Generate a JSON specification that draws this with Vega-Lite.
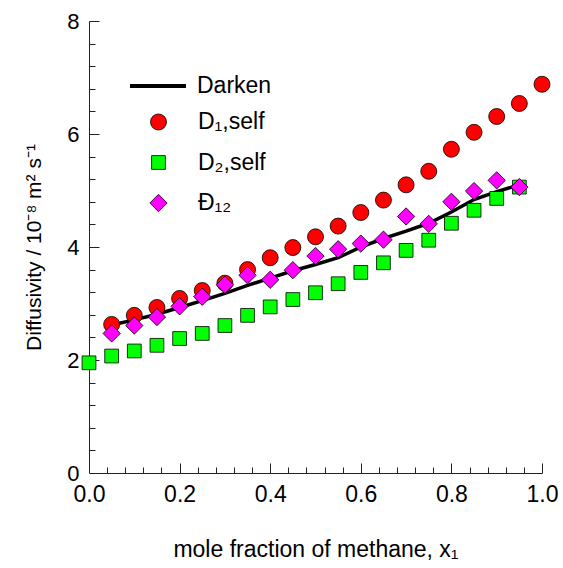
{
  "$schema": "https://vega.github.io/schema/vega-lite/v6.json",
  "width": 453,
  "height": 452,
  "autosize": "none",
  "padding": {"left": 89, "top": 21, "right": 21, "bottom": 95},
  "background": "white",
  "config": {
    "view": {"stroke": null},
    "font": "Liberation Sans",
    "axis": {
      "grid": false,
      "domainColor": "#222",
      "tickColor": "#222",
      "labelColor": "black",
      "titleColor": "black",
      "labelFont": "Liberation Sans",
      "titleFont": "Liberation Sans",
      "labelFontSize": 23,
      "titleFontSize": 23,
      "titleFontWeight": "normal"
    },
    "legend": {
      "labelFont": "Liberation Sans",
      "labelFontSize": 23,
      "labelColor": "black",
      "padding": 0,
      "clipHeight": 20,
      "symbolOffset": 0
    }
  },
  "datasets": {
    "darken": [
      {"series": "Darken", "x": 0.05, "y": 2.62}, {"series": "Darken", "x": 0.10, "y": 2.71},
      {"series": "Darken", "x": 0.15, "y": 2.81}, {"series": "Darken", "x": 0.20, "y": 2.93},
      {"series": "Darken", "x": 0.25, "y": 3.05}, {"series": "Darken", "x": 0.30, "y": 3.18},
      {"series": "Darken", "x": 0.35, "y": 3.32}, {"series": "Darken", "x": 0.40, "y": 3.45},
      {"series": "Darken", "x": 0.45, "y": 3.58}, {"series": "Darken", "x": 0.50, "y": 3.69},
      {"series": "Darken", "x": 0.55, "y": 3.81}, {"series": "Darken", "x": 0.60, "y": 4.00},
      {"series": "Darken", "x": 0.65, "y": 4.15}, {"series": "Darken", "x": 0.70, "y": 4.28},
      {"series": "Darken", "x": 0.75, "y": 4.42}, {"series": "Darken", "x": 0.80, "y": 4.62},
      {"series": "Darken", "x": 0.85, "y": 4.84}, {"series": "Darken", "x": 0.90, "y": 4.98},
      {"series": "Darken", "x": 0.95, "y": 5.10}
    ],
    "points": [
      {"series": "D₁,self", "x": 0.05, "y": 2.63},
      {"series": "D₁,self", "x": 0.10, "y": 2.79},
      {"series": "D₁,self", "x": 0.15, "y": 2.93},
      {"series": "D₁,self", "x": 0.20, "y": 3.09},
      {"series": "D₁,self", "x": 0.25, "y": 3.23},
      {"series": "D₁,self", "x": 0.30, "y": 3.36},
      {"series": "D₁,self", "x": 0.35, "y": 3.60},
      {"series": "D₁,self", "x": 0.40, "y": 3.81},
      {"series": "D₁,self", "x": 0.45, "y": 3.99},
      {"series": "D₁,self", "x": 0.50, "y": 4.18},
      {"series": "D₁,self", "x": 0.55, "y": 4.37},
      {"series": "D₁,self", "x": 0.60, "y": 4.61},
      {"series": "D₁,self", "x": 0.65, "y": 4.83},
      {"series": "D₁,self", "x": 0.70, "y": 5.10},
      {"series": "D₁,self", "x": 0.75, "y": 5.34},
      {"series": "D₁,self", "x": 0.80, "y": 5.73},
      {"series": "D₁,self", "x": 0.85, "y": 6.03},
      {"series": "D₁,self", "x": 0.90, "y": 6.31},
      {"series": "D₁,self", "x": 0.95, "y": 6.54},
      {"series": "D₁,self", "x": 1.00, "y": 6.88},
      {"series": "D₂,self", "x": 0.00, "y": 1.95},
      {"series": "D₂,self", "x": 0.05, "y": 2.07},
      {"series": "D₂,self", "x": 0.10, "y": 2.16},
      {"series": "D₂,self", "x": 0.15, "y": 2.26},
      {"series": "D₂,self", "x": 0.20, "y": 2.38},
      {"series": "D₂,self", "x": 0.25, "y": 2.47},
      {"series": "D₂,self", "x": 0.30, "y": 2.61},
      {"series": "D₂,self", "x": 0.35, "y": 2.79},
      {"series": "D₂,self", "x": 0.40, "y": 2.94},
      {"series": "D₂,self", "x": 0.45, "y": 3.07},
      {"series": "D₂,self", "x": 0.50, "y": 3.19},
      {"series": "D₂,self", "x": 0.55, "y": 3.35},
      {"series": "D₂,self", "x": 0.60, "y": 3.55},
      {"series": "D₂,self", "x": 0.65, "y": 3.72},
      {"series": "D₂,self", "x": 0.70, "y": 3.94},
      {"series": "D₂,self", "x": 0.75, "y": 4.12},
      {"series": "D₂,self", "x": 0.80, "y": 4.42},
      {"series": "D₂,self", "x": 0.85, "y": 4.65},
      {"series": "D₂,self", "x": 0.90, "y": 4.86},
      {"series": "D₂,self", "x": 0.95, "y": 5.06},
      {"series": "Đ₁₂", "x": 0.05, "y": 2.47},
      {"series": "Đ₁₂", "x": 0.10, "y": 2.61},
      {"series": "Đ₁₂", "x": 0.15, "y": 2.76},
      {"series": "Đ₁₂", "x": 0.20, "y": 2.95},
      {"series": "Đ₁₂", "x": 0.25, "y": 3.12},
      {"series": "Đ₁₂", "x": 0.30, "y": 3.33},
      {"series": "Đ₁₂", "x": 0.35, "y": 3.50},
      {"series": "Đ₁₂", "x": 0.40, "y": 3.42},
      {"series": "Đ₁₂", "x": 0.45, "y": 3.59},
      {"series": "Đ₁₂", "x": 0.50, "y": 3.84},
      {"series": "Đ₁₂", "x": 0.55, "y": 3.96},
      {"series": "Đ₁₂", "x": 0.60, "y": 4.06},
      {"series": "Đ₁₂", "x": 0.65, "y": 4.13},
      {"series": "Đ₁₂", "x": 0.70, "y": 4.54},
      {"series": "Đ₁₂", "x": 0.75, "y": 4.41},
      {"series": "Đ₁₂", "x": 0.80, "y": 4.80},
      {"series": "Đ₁₂", "x": 0.85, "y": 4.99},
      {"series": "Đ₁₂", "x": 0.90, "y": 5.18},
      {"series": "Đ₁₂", "x": 0.95, "y": 5.06}
    ]
  },
  "layer": [
    {
      "data": {"name": "darken"},
      "mark": {"type": "line", "strokeWidth": 3.5},
      "encoding": {
        "x": {
          "field": "x", "type": "quantitative",
          "scale": {"domain": [0, 1], "nice": false, "zero": false},
          "axis": {
            "orient": "bottom",
            "values": [0, 0.2, 0.4, 0.6, 0.8, 1.0],
            "format": ".1f",
            "ticks": false,
            "labelPadding": 10,
            "labelFlush": false,
            "title": "mole fraction of methane, x₁",
            "titlePadding": 32
          }
        },
        "y": {
          "field": "y", "type": "quantitative",
          "scale": {"domain": [0, 8], "nice": false, "zero": false},
          "axis": {
            "orient": "left",
            "values": [0, 2, 4, 6, 8],
            "ticks": false,
            "labelPadding": 10,
            "labelFontSize": 22,
            "labelFlush": false,
            "title": "Diffusivity / 10⁻⁸ m² s⁻¹",
            "titleFontSize": 21,
            "titlePadding": 22
          }
        },
        "color": {
          "field": "series", "type": "nominal",
          "scale": {"domain": ["Darken"], "range": ["black"]},
          "legend": {
            "title": null,
            "orient": "none",
            "legendX": 39,
            "legendY": 55,
            "symbolType": "stroke",
            "symbolSize": 3136,
            "symbolStrokeWidth": 4,
            "symbolStrokeColor": "black",
            "labelOffset": 9
          }
        }
      }
    },
    {
      "data": {"name": "points"},
      "mark": {"type": "point", "filled": true, "stroke": "black", "strokeWidth": 0.8, "opacity": 1},
      "encoding": {
        "x": {
          "field": "x", "type": "quantitative",
          "axis": {
            "orient": "bottom",
            "values": [0.2, 0.4, 0.6, 0.8, 1.0],
            "labels": false, "domain": false, "title": null,
            "tickSize": 10, "offset": -10
          }
        },
        "y": {
          "field": "y", "type": "quantitative",
          "axis": {
            "orient": "left",
            "values": [2, 4, 6, 8],
            "labels": false, "domain": false, "title": null,
            "tickSize": 10, "offset": -10
          }
        },
        "fill": {
          "field": "series", "type": "nominal",
          "scale": {"domain": ["D₁,self", "D₂,self", "Đ₁₂"], "range": ["#ff0000", "#00ff00", "#ff00ff"]},
          "legend": {
            "title": null,
            "orient": "none",
            "legendX": 58,
            "legendY": 91,
            "rowPadding": 17.5,
            "labelOffset": 28,
            "symbolStrokeColor": "black",
            "symbolStrokeWidth": 0.8
          }
        },
        "shape": {
          "field": "series", "type": "nominal",
          "scale": {"domain": ["D₁,self", "D₂,self", "Đ₁₂"], "range": ["circle", "square", "diamond"]}
        },
        "size": {
          "field": "series", "type": "nominal",
          "scale": {"type": "ordinal", "domain": ["D₁,self", "D₂,self", "Đ₁₂"], "range": [256, 190, 300]}
        }
      }
    },
    {
      "mark": {"type": "text", "align": "left", "baseline": "alphabetic", "font": "Liberation Sans", "fontSize": 24, "lineHeight": 30, "color": "black",
        "text": ["Binary mixtures", "C1(1) - C2 (2);", "333K"]},
      "encoding": {
        "x": {
          "datum": 0.547, "type": "quantitative",
          "axis": {
            "orient": "bottom",
            "values": [0.04, 0.08, 0.12, 0.16, 0.24, 0.28, 0.32, 0.36, 0.44, 0.48, 0.52, 0.56, 0.64, 0.68, 0.72, 0.76, 0.84, 0.88, 0.92, 0.96],
            "labels": false, "domain": false, "title": null,
            "tickSize": 6, "offset": -6
          }
        },
        "y": {
          "datum": 2.01, "type": "quantitative",
          "axis": {
            "orient": "left",
            "values": [0.4, 0.8, 1.2, 1.6, 2.4, 2.8, 3.2, 3.6, 4.4, 4.8, 5.2, 5.6, 6.4, 6.8, 7.2, 7.6],
            "labels": false, "domain": false, "title": null,
            "tickSize": 6, "offset": -6
          }
        }
      }
    }
  ],
  "resolve": {"axis": {"x": "independent", "y": "independent"}}
}
